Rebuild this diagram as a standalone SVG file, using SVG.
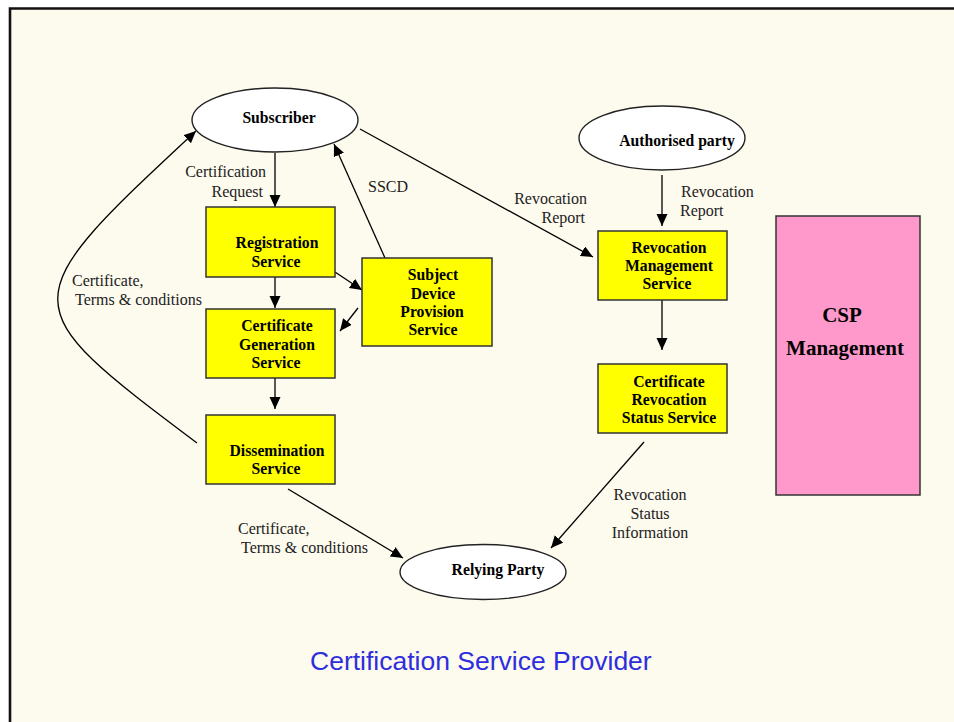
<svg xmlns="http://www.w3.org/2000/svg" width="954" height="722" viewBox="0 0 954 722">
<defs>
<marker id="ah" markerUnits="userSpaceOnUse" markerWidth="13" markerHeight="12" refX="12" refY="5.5" orient="auto">
<path d="M0,0 L12,5.5 L0,11 z" fill="#000"/>
</marker>
<style>
.bg{fill:#FDFAEE}
.frame{stroke:#111;stroke-width:2.6;fill:none}
.box{fill:#FFFF00;stroke:#333;stroke-width:1.5}
.ell{fill:#FFFFFF;stroke:#222;stroke-width:1.4}
.pink{fill:#FF99CC;stroke:#333;stroke-width:1.5}
.nt{font-family:"Liberation Serif","Times New Roman",serif;font-weight:bold;font-size:15.7px;fill:#000;text-anchor:middle}
.big{font-family:"Liberation Serif","Times New Roman",serif;font-weight:bold;font-size:21px;fill:#000;text-anchor:middle}
.lb{font-family:"Liberation Serif","Times New Roman",serif;font-size:16px;fill:#222}
.title{font-family:"Liberation Sans",Arial,sans-serif;font-size:26.5px;fill:#2E2EDD}
.cn{stroke:#000;stroke-width:1.3;fill:none;marker-end:url(#ah)}
</style>
</defs>
<rect x="0" y="0" width="954" height="722" fill="#FFFFFF"/>
<rect class="bg" x="10" y="8.5" width="944" height="714"/>
<path class="frame" d="M10,722 L10,8.5 L954,8.5"/>

<g id="connectors">
<line class="cn" x1="275" y1="153" x2="275" y2="207"/>
<line class="cn" x1="275" y1="277" x2="275" y2="308"/>
<line class="cn" x1="275" y1="378" x2="275" y2="409"/>
<line class="cn" x1="335" y1="272" x2="362" y2="290"/>
<line class="cn" x1="358" y1="308" x2="340" y2="331"/>
<line class="cn" x1="385" y1="258" x2="334" y2="144"/>
<line class="cn" x1="360" y1="129" x2="593" y2="257"/>
<line class="cn" x1="662" y1="175" x2="662" y2="226"/>
<line class="cn" x1="662" y1="300" x2="662" y2="350"/>
<line class="cn" x1="644" y1="442" x2="551" y2="548"/>
<line class="cn" x1="288" y1="489" x2="403" y2="558"/>
<path class="cn" d="M197,443 C12,304 11,303 196,131"/>
<text class="lb" x="266" y="177" text-anchor="end">Certification</text>
<text class="lb" x="263" y="197" text-anchor="end">Request</text>
<text class="lb" x="368" y="192">SSCD</text>
<text class="lb" x="587" y="204" text-anchor="end">Revocation</text>
<text class="lb" x="585" y="223" text-anchor="end">Report</text>
<text class="lb" x="681" y="197">Revocation</text>
<text class="lb" x="680" y="216">Report</text>
<text class="lb" x="650" y="500" text-anchor="middle">Revocation</text>
<text class="lb" x="650" y="519" text-anchor="middle">Status</text>
<text class="lb" x="650" y="538" text-anchor="middle">Information</text>
<text class="lb" x="238" y="534">Certificate,</text>
<text class="lb" x="241" y="553">Terms &amp; conditions</text>
<text class="lb" x="72" y="286">Certificate,</text>
<text class="lb" x="75" y="305">Terms &amp; conditions</text>
</g>

<g id="subscriber">
<ellipse class="ell" cx="275" cy="120" rx="83" ry="32"/>
<text class="nt" x="279" y="123">Subscriber</text>
</g>
<g id="authorised-party">
<ellipse class="ell" cx="662" cy="138" rx="83" ry="32"/>
<text class="nt" x="677" y="146">Authorised party</text>
</g>
<g id="relying-party">
<ellipse class="ell" cx="483" cy="572" rx="83" ry="27.5"/>
<text class="nt" x="498" y="575">Relying Party</text>
</g>
<g id="registration-service">
<rect class="box" x="206" y="207" width="129" height="70"/>
<text class="nt" x="277" y="248">Registration</text>
<text class="nt" x="276" y="267">Service</text>
</g>
<g id="certificate-generation-service">
<rect class="box" x="206" y="309" width="129" height="69"/>
<text class="nt" x="277" y="331">Certificate</text>
<text class="nt" x="277" y="350">Generation</text>
<text class="nt" x="276" y="368">Service</text>
</g>
<g id="dissemination-service">
<rect class="box" x="206" y="415" width="129" height="69"/>
<text class="nt" x="277" y="456">Dissemination</text>
<text class="nt" x="276" y="474">Service</text>
</g>
<g id="subject-device-provision-service">
<rect class="box" x="362" y="258" width="130" height="88"/>
<text class="nt" x="433" y="280">Subject</text>
<text class="nt" x="433" y="299">Device</text>
<text class="nt" x="432" y="317">Provision</text>
<text class="nt" x="433" y="335">Service</text>
</g>
<g id="revocation-management-service">
<rect class="box" x="598" y="231" width="129" height="69"/>
<text class="nt" x="669" y="253">Revocation</text>
<text class="nt" x="669" y="271">Management</text>
<text class="nt" x="667" y="289">Service</text>
</g>
<g id="certificate-revocation-status-service">
<rect class="box" x="598" y="364" width="129" height="69"/>
<text class="nt" x="669" y="387">Certificate</text>
<text class="nt" x="669" y="405">Revocation</text>
<text class="nt" x="669" y="423">Status Service</text>
</g>
<g id="csp-management">
<rect class="pink" x="776" y="216" width="144" height="279"/>
<text class="big" x="842" y="322">CSP</text>
<text class="big" x="845" y="355">Management</text>
</g>
<text class="title" x="310" y="670">Certification Service Provider</text>
</svg>
